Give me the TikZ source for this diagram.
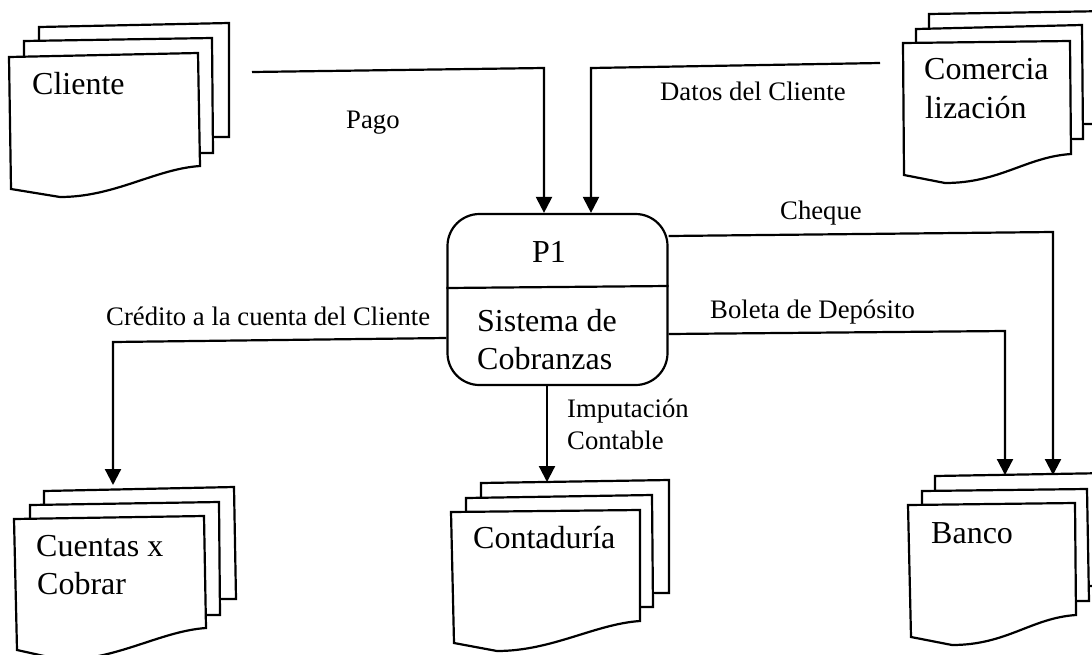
\documentclass[tikz,border=0pt]{standalone}
\usepackage{fontspec}
\setmainfont{Liberation Serif}
\usetikzlibrary{arrows.meta,calc}
\tikzset{
  sheetline/.style={draw=black,fill=white,line width=2.2pt,line join=miter},
  flow/.style={draw=black,line width=2.2pt,-{Triangle[width=16pt,length=16pt]}},
  divider/.style={draw=black,line width=2.2pt},
  biglabel/.style={anchor=base west,inner sep=0pt,font=\fontsize{32}{38}\selectfont},
  smalllabel/.style={anchor=base west,inner sep=0pt,font=\fontsize{26.7}{32}\selectfont},
  procbox/.style={draw=black,fill=white,line width=2.2pt,rounded corners=32pt,minimum width=220pt,minimum height=171pt,inner sep=0pt}
}
% back sheet: top-left, top-right, bottom-right
\newcommand{\backsheet}[3]{\path[sheetline] (#1) -- (#2) -- (#3) -- (#3 -| #1) -- cycle;}
% front sheet: top-left, top-right, bottom-right, wave bottom, bottom-left
\newcommand{\frontsheet}[5]{\path[sheetline] (#1) -- (#2) -- (#3)
  .. controls ($(#3)+(-45,3)$) and ($(#4)+(55,0)$) .. (#4) -- (#5) -- cycle;}
\begin{document}
\begin{tikzpicture}[x=1pt,y=-1pt]
\useasboundingbox (0,0) rectangle (1092,654);
\clip (0,0) rectangle (1092,654);
\fill[white] (0,0) rectangle (1092,654);
% Cliente
\backsheet{39,27}{229,23}{229,137}
\backsheet{24,41}{212,38}{213,153}
\frontsheet{9,57}{198,53}{200,166}{60,197}{11,189}
\node[biglabel] (cliente) at (32,94) {Cliente};
% Comercializacion
\backsheet{929,14}{1110,11}{1110,124}
\backsheet{916,29}{1082,25}{1083,139}
\frontsheet{903,43}{1070,41}{1071,154}{945,183}{904,175}
\node[biglabel] (comercia) at (924,79) {Comercia};
\node[biglabel] (lizacion) at (925,118) {lizaci\'on};
% Cuentas
\backsheet{44,491}{234,487}{236,599}
\backsheet{30,505}{219,502}{220,615}
\frontsheet{14,519}{204,516}{206,628}{62,660}{17,650}
\node[biglabel] (cuentas) at (36,556) {Cuentas x};
\node[biglabel] (cobrar) at (37,594) {Cobrar};
% Contaduria
\backsheet{481,483}{669,480}{669,593}
\backsheet{466,498}{652,495}{653,607}
\frontsheet{451,512}{640,510}{640,621}{497,651}{454,643}
\node[biglabel] (contaduria) at (473,548) {Contadur\'ia};
% Banco
\backsheet{935,476}{1110,473}{1110,586}
\backsheet{922,491}{1087,489}{1089,601}
\frontsheet{908,505}{1075,503}{1076,615}{952,645}{911,637}
\node[biglabel] (banco) at (931,543) {Banco};
% Proceso
\node[procbox] (p1) at (557.5,299.5) {};
\draw[divider] (p1.west |- 0,288) -- (p1.east |- 0,286);
\node[biglabel] (p1t) at (532,262) {P1};
\node[biglabel] (p1s) at (477,331) {Sistema de};
\node[biglabel] (p1c) at (477,369) {Cobranzas};
% Extremos
\coordinate (pagoS) at (252,72);
\coordinate (pagoC) at (544,68);
\coordinate (datosS) at (880,63);
\coordinate (datosC) at (591,68);
\coordinate (chqS) at (0,236);
\coordinate (chqC) at (1053,232);
\coordinate (chqE) at (1053,475);
\coordinate (bolS) at (0,334);
\coordinate (bolC) at (1005,331);
\coordinate (bolE) at (1005,475);
\coordinate (creS) at (0,338);
\coordinate (creC) at (113,342);
\coordinate (creE) at (113,485);
\coordinate (impS) at (547,0);
\coordinate (impE) at (547,482);
% Conectores
\draw[flow] (pagoS) -- (pagoC) -- (pagoC |- p1.north);
\draw[flow] (datosS) -- (datosC) -- (datosC |- p1.north);
\draw[flow] (p1.east |- chqS) -- (chqC) -- (chqE);
\draw[flow] (p1.east |- bolS) -- (bolC) -- (bolE);
\draw[flow] (p1.west |- creS) -- (creC) -- (creE);
\draw[flow] (p1.south -| impS) -- (impE);
% Etiquetas
\node[smalllabel] (lpago) at (346,128) {Pago};
\node[smalllabel] (ldatos) at (660,100) {Datos del Cliente};
\node[smalllabel] (lcheque) at (780,219) {Cheque};
\node[smalllabel] (lboleta) at (710,318) {Boleta de Dep\'osito};
\node[smalllabel] (lcredito) at (106,325) {Cr\'edito a la cuenta del Cliente};
\node[smalllabel] (limput) at (567,417) {Imputaci\'on};
\node[smalllabel] (lcontable) at (567,449) {Contable};
\end{tikzpicture}
\end{document}
